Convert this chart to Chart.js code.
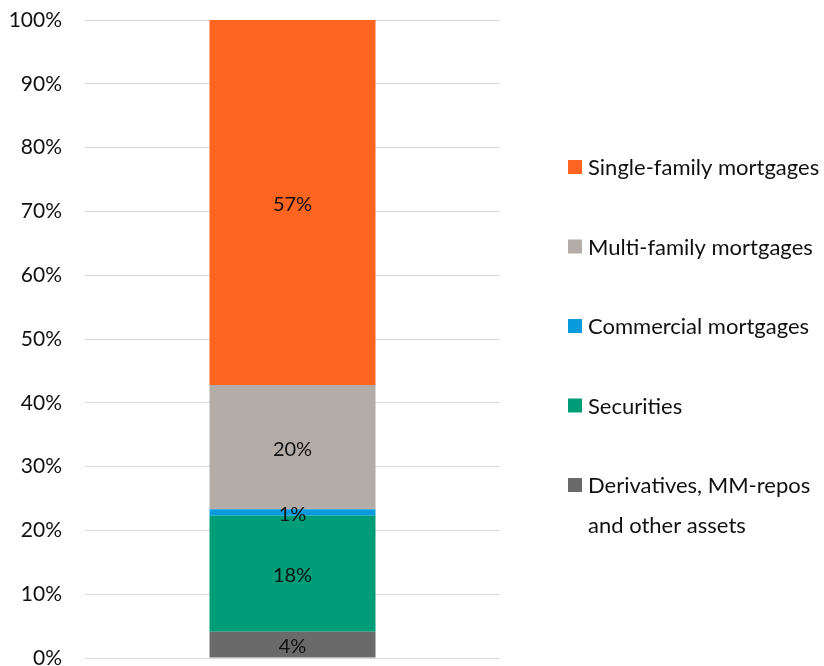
<!DOCTYPE html>
<html>
<head>
<meta charset="utf-8">
<script src="https://cdn.jsdelivr.net/npm/chart.js@4"></script>
<style>
html,body{margin:0;padding:0;background:#fff;}
#wrap{position:relative;width:824px;height:666px;}
</style>
</head>
<body>
<div id="wrap"><canvas id="c" width="824" height="666"></canvas></div>
<script>
const categories = [''];
const seriesNames = ['Derivatives, MM-repos and other assets','Securities','Commercial mortgages','Multi-family mortgages','Single-family mortgages'];
const legendLines = [['Derivatives, MM-repos','and other assets'],['Securities'],['Commercial mortgages'],['Multi-family mortgages'],['Single-family mortgages']];
const derivatives = [4.1];
const securities = [18.2];
const commercial = [1.0];
const multiFamily = [19.5];
const singleFamily = [57.2];
const seriesColors = ['#6A6A6A','#009E78','#0A9BDC','#B4ACA6','#FF6420'];
const yTicks = [0,10,20,30,40,50,60,70,80,90,100];

const FONT = 'Lato, "Open Sans", sans-serif';
const seriesValues = [derivatives, securities, commercial, multiFamily, singleFamily];

const dataLabels = {
  id:'dataLabels',
  afterDatasetsDraw(chart){
    const ctx = chart.ctx;
    ctx.save();
    ctx.font = '20px ' + FONT;
    ctx.fillStyle = '#111';
    ctx.textAlign = 'center';
    ctx.textBaseline = 'middle';
    chart.data.datasets.forEach((ds,i)=>{
      const meta = chart.getDatasetMeta(i);
      meta.data.forEach((bar,j)=>{
        const v = ds.data[j];
        const y = (bar.y + bar.base)/2;
        ctx.fillText(Math.round(v)+'%', bar.x, y+2);
      });
    });
    ctx.restore();
  }
};

const sideLegend = {
  id:'sideLegend',
  afterDraw(chart){
    const ctx = chart.ctx;
    ctx.save();
    ctx.font = '22px ' + FONT;
    ctx.textBaseline = 'middle';
    ctx.textAlign = 'left';
    const n = chart.data.datasets.length;
    const startY = 167, step = 79.5;
    for(let k=0;k<n;k++){
      const i = n-1-k;
      const y = startY + k*step;
      ctx.fillStyle = seriesColors[i];
      ctx.fillRect(568, y-7, 14, 14);
      ctx.fillStyle = '#111';
      legendLines[i].forEach((t,li)=>{
        ctx.fillText(t, 588, y + 1 + li*40);
      });
    }
    ctx.restore();
  }
};

new Chart(document.getElementById('c'), {
  type:'bar',
  data:{
    labels: categories,
    datasets: seriesValues.map((vals,i)=>({
      label: seriesNames[i],
      data: vals,
      backgroundColor: seriesColors[i],
      borderWidth: 0,
      barPercentage: 0.4,
      categoryPercentage: 1.0
    }))
  },
  options:{
    responsive:false,
    animation:false,
    layout:{padding:{top:20,right:324,bottom:8,left:0}},
    plugins:{legend:{display:false},tooltip:{enabled:false}},
    scales:{
      x:{stacked:true, display:false},
      y:{
        stacked:true, min:0, max:100,
        afterFit(scale){ scale.width = 85; scale.paddingTop = 0; scale.paddingBottom = 0; },
        afterBuildTicks(scale){ scale.ticks = yTicks.map(v=>({value:v})); },
        border:{display:false},
        grid:{color:'#D9D9D9', lineWidth:1, drawTicks:false},
        ticks:{
          padding:23,
          color:'#111',
          font:{family:FONT, size:21},
          callback:(v)=>v+'%'
        }
      }
    }
  },
  plugins:[dataLabels, sideLegend]
});
</script>
</body>
</html>
